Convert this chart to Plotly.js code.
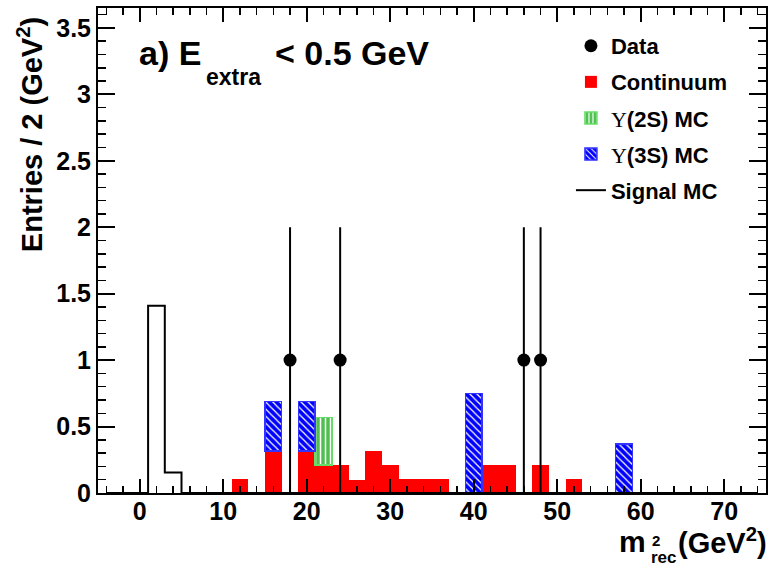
<!DOCTYPE html>
<html>
<head>
<meta charset="utf-8">
<script src="https://cdn.plot.ly/plotly-3.0.1.min.js"></script>
<style>html,body{margin:0;padding:0;background:#fff;}#chart{width:774px;height:570px;}</style>
</head>
<body>
<div id="chart"></div>
<script>
// Bin centres (bin width 2 GeV^2)
const binCenters = [-4,-2,0,2,4,6,8,10,12,14,16,18,20,22,24,26,28,30,32,34,36,38,40,42,44,46,48,50,52,54,56,58,60,62,64,66,68,70,72,74];
// Continuum (red)
const continuum = [0,0,0,0,0,0,0,0,0.105,0,0.315,0,0.315,0.21,0.21,0.1,0.315,0.21,0.105,0.105,0.105,0,0,0.21,0.21,0,0.21,0,0.105,0,0,0,0,0,0,0,0,0,0,0];
// Upsilon(2S) MC (green, stacked on continuum)
const ups2S = [0,0,0,0,0,0,0,0,0,0,0,0,0,0.36,0,0,0,0,0,0,0,0,0,0,0,0,0,0,0,0,0,0,0,0,0,0,0,0,0,0];
// Upsilon(3S) MC (blue, stacked)
const ups3S = [0,0,0,0,0,0,0,0,0,0,0.375,0,0.375,0,0,0,0,0,0,0,0,0,0.75,0,0,0,0,0,0,0,0,0.37,0,0,0,0,0,0,0,0];
// Signal MC (black outline)
const signalMC = [0,0,0,1.41,0.155,0,0,0,0,0,0,0,0,0,0,0,0,0,0,0,0,0,0,0,0,0,0,0,0,0,0,0,0,0,0,0,0,0,0,0];
// Data points
const dataX = [18,24,46,48];
const dataY = [1,1,1,1];
const dataErr = [1,1,1,1];

const FONT = 'Liberation Sans, Arial, Helvetica, sans-serif';
const ups = '<span style="font-family:Liberation Serif;font-weight:normal">Υ</span>';
const nz = arr => arr.map(v => (v === 0 ? null : v));

const traces = [
  {type:'scatter', mode:'markers', x:dataX, y:dataY, name:'Data', legendgroup:'g1',
   marker:{color:'#000000', size:13, symbol:'circle'},
   error_y:{type:'data', array:dataErr, visible:true, color:'#000000', thickness:2, width:0}},
  {type:'bar', x:binCenters, y:nz(continuum), width:2, name:'Continuum', legendgroup:'g2',
   marker:{color:'#ff0000', line:{width:0}}},
  {type:'bar', x:binCenters, y:nz(ups2S), width:2, name:ups+'(2S) MC', legendgroup:'g3',
   marker:{color:'#4fc04f', line:{color:'#66dd66', width:1.5},
           pattern:{shape:'|', fgcolor:'#ffffff', bgcolor:'#4fc04f', size:5, solidity:0.3, fillmode:'replace'}}},
  {type:'bar', x:binCenters, y:nz(ups3S), width:2, name:ups+'(3S) MC', legendgroup:'g4',
   marker:{color:'#0000ff', line:{color:'#3333ff', width:1.5},
           pattern:{shape:'\\', fgcolor:'#ffffff', bgcolor:'#0000ff', size:5, solidity:0.25, fillmode:'replace'}}},
  {type:'scatter', mode:'lines', x:binCenters, y:signalMC, name:'Signal MC', legendgroup:'g5',
   line:{color:'#000000', width:2, shape:'hvh'}}
];

const axisCommon = {
  showline:true, linecolor:'#000', linewidth:2, mirror:'ticks',
  ticks:'inside', tickcolor:'#000', tickwidth:2,
  showgrid:false, zeroline:false,
  tickfont:{family:FONT, size:25, weight:'bold', color:'#000'}
};

const layout = {
  width:774, height:570,
  margin:{l:98, r:8, t:8, b:77},
  paper_bgcolor:'#fff', plot_bgcolor:'#fff',
  barmode:'stack', bargap:0,
  showlegend:true,
  legend:{x:0.708, y:0.965, xanchor:'left', yanchor:'top', traceorder:'grouped',
          tracegroupgap:4.5, itemclick:false, bgcolor:'rgba(0,0,0,0)',
          font:{family:FONT, size:22, weight:'bold', color:'#000'}},
  xaxis:Object.assign({}, axisCommon, {range:[-5,75], tick0:0, dtick:10, ticklen:14, ticklabelstandoff:-5,
    minor:{dtick:2, tick0:0, ticks:'inside', ticklen:7, tickwidth:1.5, tickcolor:'#000'}}),
  yaxis:Object.assign({}, axisCommon, {range:[0,3.65], tick0:0, dtick:0.5, ticklen:17,
    minor:{dtick:0.1, tick0:0, ticks:'inside', ticklen:8, tickwidth:1.5, tickcolor:'#000'}}),
  annotations:[
    {text:'a) E', xref:'paper', yref:'paper', x:0.058, y:0.907, xanchor:'left', yanchor:'middle', showarrow:false,
     font:{family:FONT, size:34, weight:'bold', color:'#000'}},
    {text:'extra', xref:'paper', yref:'paper', x:0.158, y:0.858, xanchor:'left', yanchor:'middle', showarrow:false,
     font:{family:FONT, size:23, weight:'bold', color:'#000'}},
    {text:'&lt; 0.5 GeV', xref:'paper', yref:'paper', x:0.262, y:0.907, xanchor:'left', yanchor:'middle', showarrow:false,
     font:{family:FONT, size:34, weight:'bold', color:'#000'}},
    {text:'Entries / 2 (GeV<sup>2</sup>)', xref:'paper', yref:'paper', x:-0.102, y:0.986, xanchor:'center', yanchor:'top',
     textangle:-90, showarrow:false, font:{family:FONT, size:29, weight:'bold', color:'#000'}},
    {text:'m', xref:'paper', yref:'paper', x:0.778, y:-0.099, xanchor:'left', yanchor:'middle', showarrow:false,
     borderpad:0, font:{family:FONT, size:30, weight:'bold', color:'#000'}},
    {text:'2', xref:'paper', yref:'paper', x:0.828, y:-0.098, xanchor:'left', yanchor:'middle', showarrow:false,
     borderpad:0, font:{family:FONT, size:15, weight:'bold', color:'#000'}},
    {text:'rec', xref:'paper', yref:'paper', x:0.826, y:-0.132, xanchor:'left', yanchor:'middle', showarrow:false,
     borderpad:0, font:{family:FONT, size:17, weight:'bold', color:'#000'}},
    {text:'(GeV<sup>2</sup>)', xref:'paper', yref:'paper', x:1.003, y:-0.099, xanchor:'right', yanchor:'middle', showarrow:false,
     borderpad:0, font:{family:FONT, size:29, weight:'bold', color:'#000'}}
  ]
};

Plotly.newPlot('chart', traces, layout, {displayModeBar:false, staticPlot:true});
</script>
</body>
</html>
